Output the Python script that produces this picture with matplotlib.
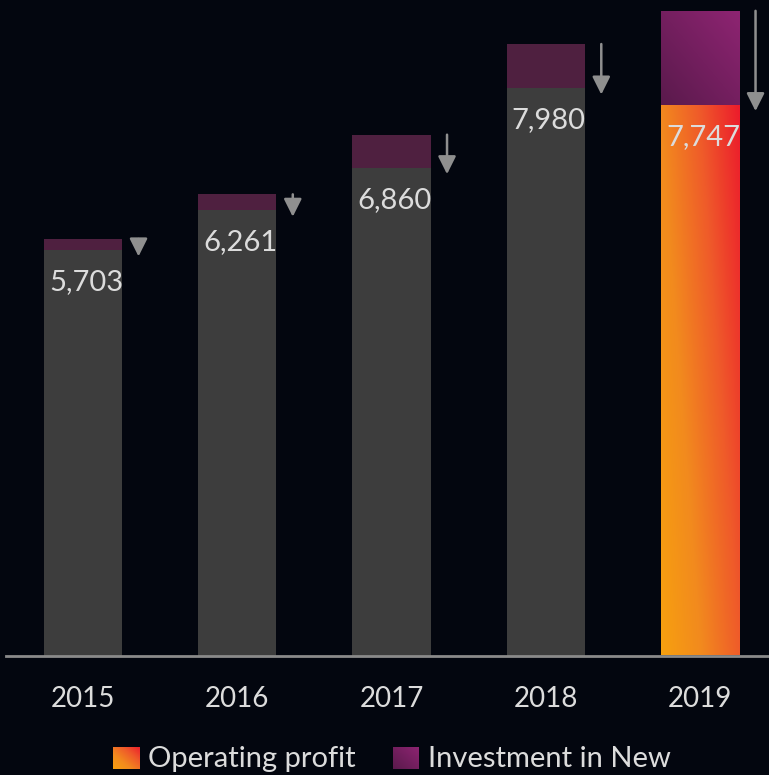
import numpy as np
import matplotlib
matplotlib.use("Agg")
from matplotlib import pyplot as plt
from matplotlib.colors import LinearSegmentedColormap
from matplotlib.patches import Rectangle

years = ["2015", "2016", "2017", "2018", "2019"]
operating_profit = [5703, 6261, 6860, 7980, 7747]
investment_new = [155, 225, 465, 620, 1320]

bg = "#03060f"
grey_bar = "#3d3d3d"
dark_purple = "#4f2040"
text_col = "#dcdcdc"
arrow_col = "#8f8f8f"

orange_red = LinearSegmentedColormap.from_list("orred", ["#f7a00f", "#f28a1e", "#ef5a2a", "#ec1c2c"])
purples = LinearSegmentedColormap.from_list("purp", ["#5a1a4c", "#8e2472"])

plt.rcParams["font.family"] = ["Lato", "DejaVu Sans"]

fig = plt.figure(figsize=(7.69, 7.75), dpi=100, facecolor=bg)
ax = fig.add_axes([6 / 769, (775 - 655.5) / 775, 763 / 769, 655.5 / 775])
ax.set_facecolor(bg)


def gradient(t_u, t_v):
    u = np.linspace(0, 1, 64)
    v = np.linspace(1, 0, 256)
    U, V = np.meshgrid(u, v)
    return t_u * U + t_v * V


width = 0.506
x = np.arange(len(years))
last = len(years) - 1
for i in x:
    op = operating_profit[i]
    inv = investment_new[i]
    left = i - width / 2
    if i == last:
        r1 = Rectangle((left, 0), width, op, facecolor="none", edgecolor="none")
        ax.add_patch(r1)
        im = ax.imshow(gradient(0.65, 0.35), cmap=orange_red, vmin=0, vmax=1,
                       extent=(left, left + width, 0, op), aspect="auto", zorder=2)
        im.set_clip_path(r1)
        r2 = Rectangle((left, op), width, inv, facecolor="none", edgecolor="none")
        ax.add_patch(r2)
        im2 = ax.imshow(gradient(0.5, 0.5), cmap=purples, vmin=0, vmax=1,
                        extent=(left, left + width, op, op + inv), aspect="auto", zorder=2)
        im2.set_clip_path(r2)
    else:
        ax.bar(i, op, width=width, color=grey_bar, zorder=2)
        ax.bar(i, inv, bottom=op, width=width, color=dark_purple, zorder=2)

    ax.annotate("", xy=(i + 0.36, op - 90), xytext=(i + 0.36, op + inv),
                arrowprops=dict(arrowstyle="-|>,head_length=0.4,head_width=0.2",
                                color=arrow_col, lw=1.8, mutation_scale=27,
                                shrinkA=0, shrinkB=0))
    ax.text(i + 0.02, op - 450, f"{op:,}", ha="center", va="center",
            fontsize=21, color=text_col, zorder=3)

ax.set_xlim((6 - 83) / 154.25, (769 - 83) / 154.25)
ax.set_ylim(0, 655.5 / 0.0711)
ax.set_xticks(x)
ax.set_xticklabels(years, fontsize=20, color=text_col)
ax.tick_params(axis="x", length=0, pad=22)
ax.set_yticks([])
for side in ["top", "right", "left"]:
    ax.spines[side].set_visible(False)
ax.spines["bottom"].set_color("#8a8a8a")
ax.spines["bottom"].set_linewidth(2)
ax.spines["bottom"].set_zorder(4)

# legend drawn by hand so the swatches can carry the gradients
sw1 = fig.add_axes([113 / 769, (775 - 769) / 775, 27 / 769, 22 / 775])
sw1.imshow(gradient(0.5, 0.5), cmap=orange_red, vmin=0, vmax=1, aspect="auto")
sw1.axis("off")
fig.text(148 / 769, (775 - 767) / 775, "Operating profit", fontsize=21,
         color=text_col, va="baseline", ha="left")
sw2 = fig.add_axes([393 / 769, (775 - 769) / 775, 26 / 769, 22 / 775])
sw2.imshow(gradient(0.5, 0.5), cmap=purples, vmin=0, vmax=1, aspect="auto")
sw2.axis("off")
fig.text(428 / 769, (775 - 767) / 775, "Investment in New", fontsize=21,
         color=text_col, va="baseline", ha="left")

fig.savefig("out.png", dpi=100, facecolor=bg)
